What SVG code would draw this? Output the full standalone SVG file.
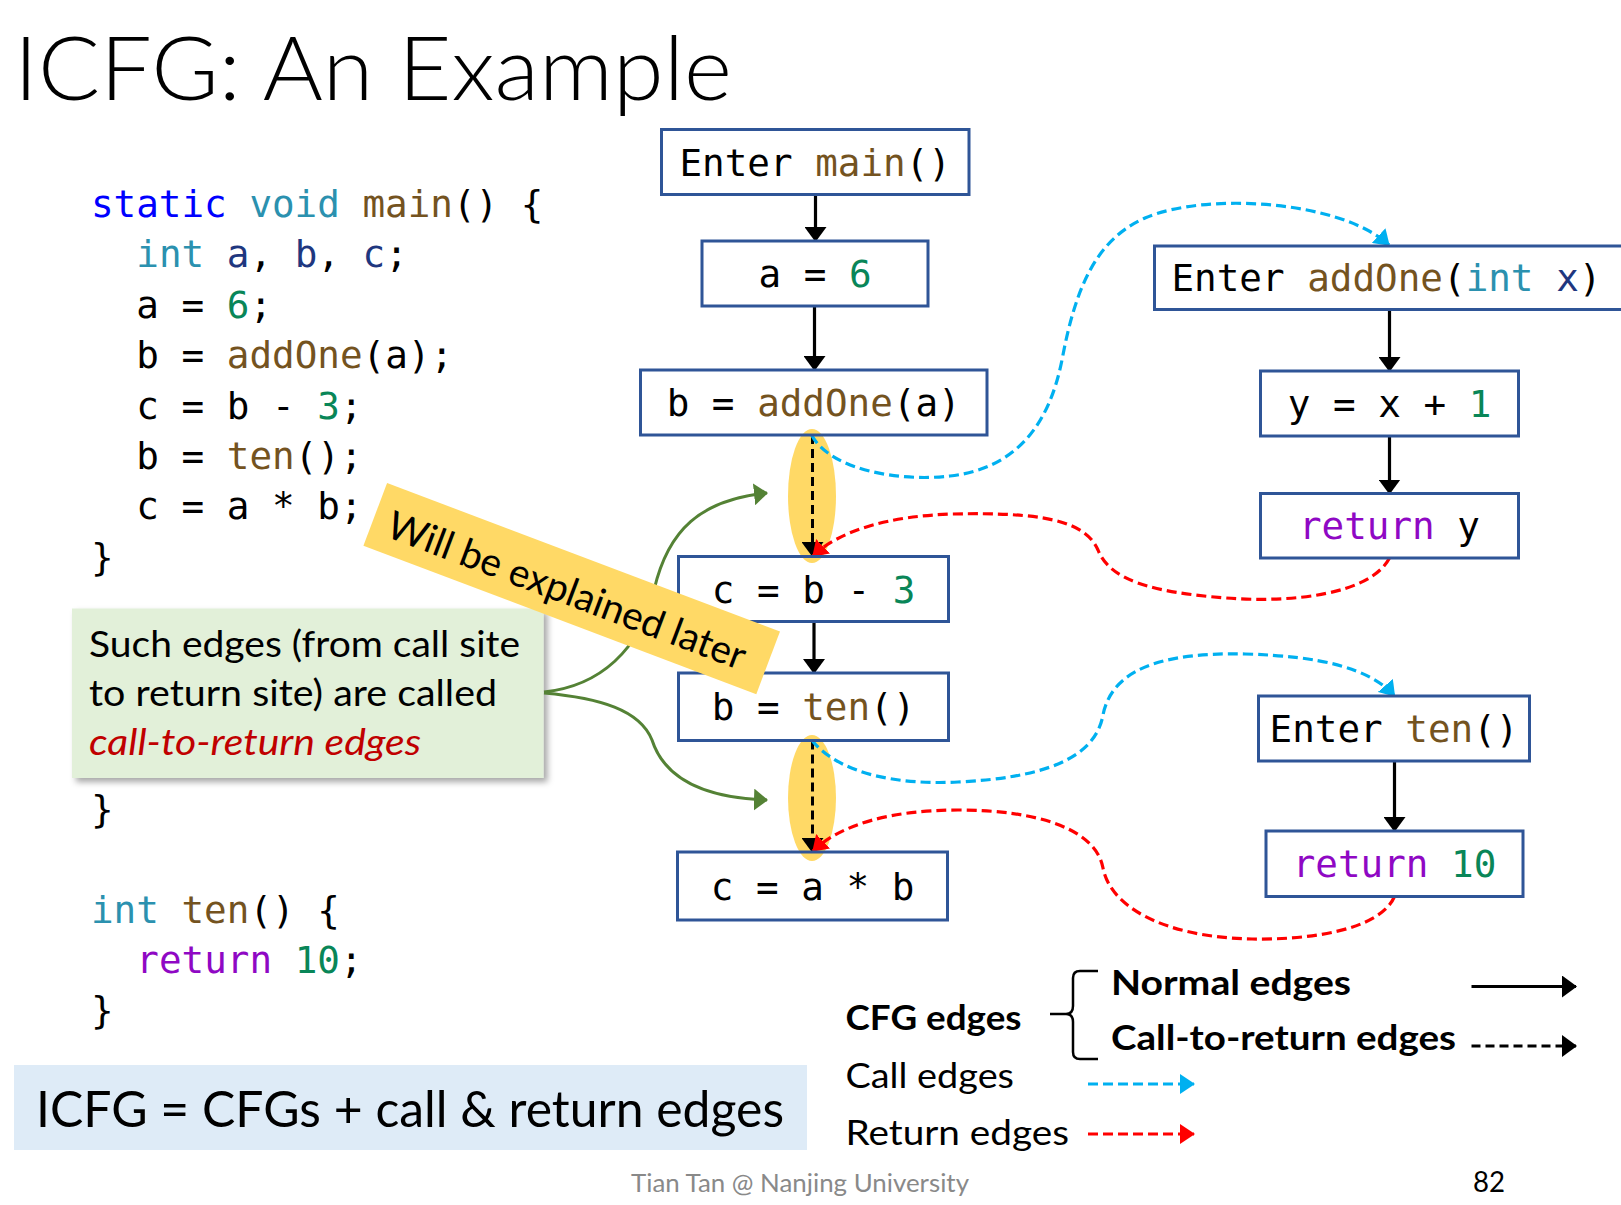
<svg xmlns="http://www.w3.org/2000/svg" width="1621" height="1205" viewBox="0 0 1621 1205">
  <style>
    .code { font-family: "DejaVu Sans Mono", "Liberation Mono", monospace; font-size: 37.6px; fill: #000; }
    .kw { fill: #0000FF; }
    .ty { fill: #2B91AF; }
    .fn { fill: #74531F; }
    .num { fill: #098658; }
    .rt { fill: #8F08C4; }
    .var { fill: #1F377F; }
    .sans { font-family: "Lato", "Open Sans", "Liberation Sans", sans-serif; fill: #000; }
    .node rect { fill: none; stroke: #2F5597; stroke-width: 3; }
    .node text { text-anchor: middle; }
    .cfg { fill: none; stroke: #000; stroke-width: 3.2; }
    .c2r { fill: none; stroke: #000; stroke-width: 3; stroke-dasharray: 9 5; }
    .call { fill: none; stroke: #00B0F0; stroke-width: 3.2; stroke-dasharray: 10 5; }
    .ret { fill: none; stroke: #FF0000; stroke-width: 3.2; stroke-dasharray: 10 5; }
    .hint { fill: none; stroke: #548235; stroke-width: 3; }
    .hl { fill: #FFD966; }
  </style>
  <defs>
    <marker id="ak" viewBox="0 0 15 22" refX="14" refY="11" markerWidth="15" markerHeight="22" markerUnits="userSpaceOnUse" orient="auto">
      <path d="M0,0 L15,11 L0,22 z" fill="#000"/>
    </marker>
    <marker id="ab" viewBox="0 0 15 20" refX="14" refY="10" markerWidth="15" markerHeight="20" markerUnits="userSpaceOnUse" orient="auto">
      <path d="M0,0 L15,10 L0,20 z" fill="#00B0F0"/>
    </marker>
    <marker id="ar" viewBox="0 0 15 20" refX="14" refY="10" markerWidth="15" markerHeight="20" markerUnits="userSpaceOnUse" orient="auto">
      <path d="M0,0 L15,10 L0,20 z" fill="#FF0000"/>
    </marker>
    <marker id="ag" viewBox="0 0 14 22" refX="13" refY="11" markerWidth="14" markerHeight="22" markerUnits="userSpaceOnUse" orient="auto">
      <path d="M0,0 L14,11 L0,22 z" fill="#548235"/>
    </marker>
    <filter id="shadow" x="-5%" y="-10%" width="115%" height="130%">
      <feDropShadow dx="4" dy="4" stdDeviation="3" flood-color="#000" flood-opacity="0.35"/>
    </filter>
  </defs>

  <!-- heading -->
  <text class="sans" x="14" y="99.5" font-size="88" font-weight="300" textLength="718" lengthAdjust="spacingAndGlyphs">ICFG: An Example</text>

  <!-- source listing -->
  <g id="source">
    <text class="code" x="91" y="217"><tspan class="kw">static</tspan> <tspan class="ty">void</tspan> <tspan class="fn">main</tspan>() {</text>
    <text class="code" x="136.3" y="267.4"><tspan class="ty">int</tspan> <tspan class="var">a</tspan>, <tspan class="var">b</tspan>, <tspan class="var">c</tspan>;</text>
    <text class="code" x="136.3" y="317.8">a = <tspan class="num">6</tspan>;</text>
    <text class="code" x="136.3" y="368.2">b = <tspan class="fn">addOne</tspan>(a);</text>
    <text class="code" x="136.3" y="418.6">c = b - <tspan class="num">3</tspan>;</text>
    <text class="code" x="136.3" y="469">b = <tspan class="fn">ten</tspan>();</text>
    <text class="code" x="136.3" y="519.4">c = a * b;</text>
    <text class="code" x="91" y="569.8">}</text>
    <text class="code" x="91" y="821.8">}</text>
    <text class="code" x="91" y="922.6"><tspan class="ty">int</tspan> <tspan class="fn">ten</tspan>() {</text>
    <text class="code" x="136.3" y="973"><tspan class="rt">return</tspan> <tspan class="num">10</tspan>;</text>
    <text class="code" x="91" y="1023.4">}</text>
  </g>

  <!-- call-site / return-site highlights -->
  <g id="highlights">
    <ellipse class="hl" cx="812" cy="496" rx="24" ry="67"/>
    <ellipse class="hl" cx="812" cy="798" rx="24" ry="63"/>
  </g>

  <!-- edges -->
  <g id="connectors">
    <!-- normal CFG edges -->
    <path class="cfg" d="M815.5,194.5 V241" marker-end="url(#ak)"/>
    <path class="cfg" d="M814.5,306 V370" marker-end="url(#ak)"/>
    <path class="cfg" d="M814,621.5 V673" marker-end="url(#ak)"/>
    <path class="cfg" d="M1389.5,309.5 V371" marker-end="url(#ak)"/>
    <path class="cfg" d="M1389.5,436 V493.5" marker-end="url(#ak)"/>
    <path class="cfg" d="M1394.5,761 V831" marker-end="url(#ak)"/>
    <!-- call-to-return edges -->
    <path class="c2r" d="M812.5,435 V556" marker-end="url(#ak)"/>
    <path class="c2r" d="M812.5,740.5 V852" marker-end="url(#ak)"/>
    <!-- call edges -->
    <path class="call" d="M811.6,435 C830,470 900,482 950,476 C1020,468 1050,420 1062,360 C1075,290 1095,240 1145,218 C1205,192 1340,200 1389,245" marker-end="url(#ab)"/>
    <path class="call" d="M811.6,740 C840,775 900,785 958,782 C1040,778 1095,760 1103,715 C1112,670 1160,652 1245,654 C1320,656 1370,668 1394.5,696" marker-end="url(#ab)"/>
    <!-- return edges -->
    <path class="ret" d="M1389.5,558 C1370,595 1290,603 1226,598 C1150,592 1110,580 1098,550 C1085,520 1040,512 952,514 C890,516 840,530 813,556" marker-end="url(#ar)"/>
    <path class="ret" d="M1394.5,896.5 C1380,930 1310,940 1252,939 C1160,937 1110,905 1103,868 C1096,830 1040,810 958,810 C890,810 840,825 813,851" marker-end="url(#ar)"/>
  </g>

  <!-- CFG nodes -->
  <g id="n-enter-main" class="node">
    <rect x="661.5" y="129.5" width="307.5" height="65"/>
    <text class="code" x="815.2" y="175.5">Enter <tspan class="fn">main</tspan>()</text>
  </g>
  <g id="n-a-6" class="node">
    <rect x="702" y="241" width="226" height="65"/>
    <text class="code" x="815" y="287">a = <tspan class="num">6</tspan></text>
  </g>
  <g id="n-b-addone" class="node">
    <rect x="640.5" y="370" width="346.5" height="65"/>
    <text class="code" x="813.7" y="416">b = <tspan class="fn">addOne</tspan>(a)</text>
  </g>
  <g id="n-c-b-3" class="node">
    <rect x="678.5" y="556.5" width="270" height="65"/>
    <text class="code" x="813.5" y="602.5">c = b - <tspan class="num">3</tspan></text>
  </g>
  <g id="n-b-ten" class="node">
    <rect x="678.5" y="673" width="270" height="67.5"/>
    <text class="code" x="813.5" y="720">b = <tspan class="fn">ten</tspan>()</text>
  </g>
  <g id="n-c-a-b" class="node">
    <rect x="677.5" y="852" width="270" height="68"/>
    <text class="code" x="812.5" y="899.5">c = a * b</text>
  </g>
  <g id="n-enter-addone" class="node">
    <rect x="1154.5" y="246" width="468" height="63.5"/>
    <text class="code" x="1171.5" y="291" style="text-anchor:start">Enter <tspan class="fn">addOne</tspan>(<tspan class="ty">int</tspan> <tspan class="var">x</tspan>)</text>
  </g>
  <g id="n-y" class="node">
    <rect x="1260.5" y="371" width="258" height="65"/>
    <text class="code" x="1389.5" y="417">y = x + <tspan class="num">1</tspan></text>
  </g>
  <g id="n-return-y" class="node">
    <rect x="1260.5" y="493.5" width="258" height="64.5"/>
    <text class="code" x="1389.5" y="539"><tspan class="rt">return</tspan> y</text>
  </g>
  <g id="n-enter-ten" class="node">
    <rect x="1258.5" y="696" width="271" height="65"/>
    <text class="code" x="1394" y="742">Enter <tspan class="fn">ten</tspan>()</text>
  </g>
  <g id="n-return-10" class="node">
    <rect x="1266" y="831" width="257" height="65.5"/>
    <text class="code" x="1394.5" y="877"><tspan class="rt">return</tspan> <tspan class="num">10</tspan></text>
  </g>

  <!-- callout about call-to-return edges -->
  <g id="note">
    <rect x="72" y="608.5" width="471.5" height="169.5" fill="#E2F0D9" filter="url(#shadow)"/>
    <text class="sans" x="89" y="657" font-size="37" textLength="431" lengthAdjust="spacingAndGlyphs">Such edges (from call site</text>
    <text class="sans" x="89" y="706" font-size="37" textLength="408" lengthAdjust="spacingAndGlyphs">to return site) are called</text>
    <text class="sans" x="89" y="755" font-size="37" font-style="italic" style="fill:#C00000" textLength="332" lengthAdjust="spacingAndGlyphs">call-to-return edges</text>
  </g>
  <g id="note-pointers">
    <path class="hint" d="M544,692 C600,686 640,650 654,590 C668,530 700,500 767,493" marker-end="url(#ag)"/>
    <path class="hint" d="M544,693 C600,698 640,710 652,740 C665,780 705,798 767,800" marker-end="url(#ag)"/>
  </g>

  <!-- tilted banner -->
  <g id="banner" transform="translate(571.7,588.6) rotate(20.7)">
    <rect x="-210" y="-33.5" width="420" height="67" fill="#FFD966"/>
    <text class="sans" x="-4" y="17" font-size="39" text-anchor="middle" textLength="380" lengthAdjust="spacingAndGlyphs">Will be explained later</text>
  </g>

  <!-- summary bar -->
  <g id="summary">
    <rect x="14" y="1065" width="793" height="85" fill="#DEEBF7"/>
    <text class="sans" x="36" y="1127" font-size="50" textLength="748" lengthAdjust="spacingAndGlyphs">ICFG = CFGs + call &amp; return edges</text>
  </g>

  <!-- legend -->
  <g id="legend">
    <text class="sans" x="845.5" y="1030" font-size="34" font-weight="bold" textLength="176" lengthAdjust="spacingAndGlyphs">CFG edges</text>
    <path d="M1098,971 H1080 Q1073,971 1073,978 V1006 Q1073,1014 1066,1014 H1050 M1066,1014 Q1073,1014 1073,1022 V1052 Q1073,1059 1080,1059 H1098" fill="none" stroke="#000" stroke-width="2.5"/>
    <text class="sans" x="1111" y="995" font-size="34" font-weight="bold" textLength="240" lengthAdjust="spacingAndGlyphs">Normal edges</text>
    <text class="sans" x="1111" y="1050" font-size="34" font-weight="bold" textLength="345" lengthAdjust="spacingAndGlyphs">Call-to-return edges</text>
    <text class="sans" x="845.5" y="1088" font-size="34" textLength="168.5" lengthAdjust="spacingAndGlyphs">Call edges</text>
    <text class="sans" x="845.5" y="1145" font-size="34" textLength="223.5" lengthAdjust="spacingAndGlyphs">Return edges</text>
    <path class="cfg" d="M1471.5,986.5 H1576" stroke-width="4" marker-end="url(#ak)"/>
    <path class="c2r" d="M1471.5,1046 H1576" stroke-width="4" stroke-dasharray="8 4" marker-end="url(#ak)"/>
    <path class="call" d="M1088,1084 H1194" stroke-width="4" stroke-dasharray="8 4" marker-end="url(#ab)"/>
    <path class="ret" d="M1088,1134 H1194" stroke-width="4" stroke-dasharray="8 4" marker-end="url(#ar)"/>
  </g>

  <!-- footer -->
  <text class="sans" x="631" y="1192" font-size="25" style="fill:#898989" textLength="338" lengthAdjust="spacingAndGlyphs">Tian Tan @ Nanjing University</text>
  <text class="sans" x="1473" y="1192" font-size="28" textLength="32" lengthAdjust="spacingAndGlyphs">82</text>
</svg>
